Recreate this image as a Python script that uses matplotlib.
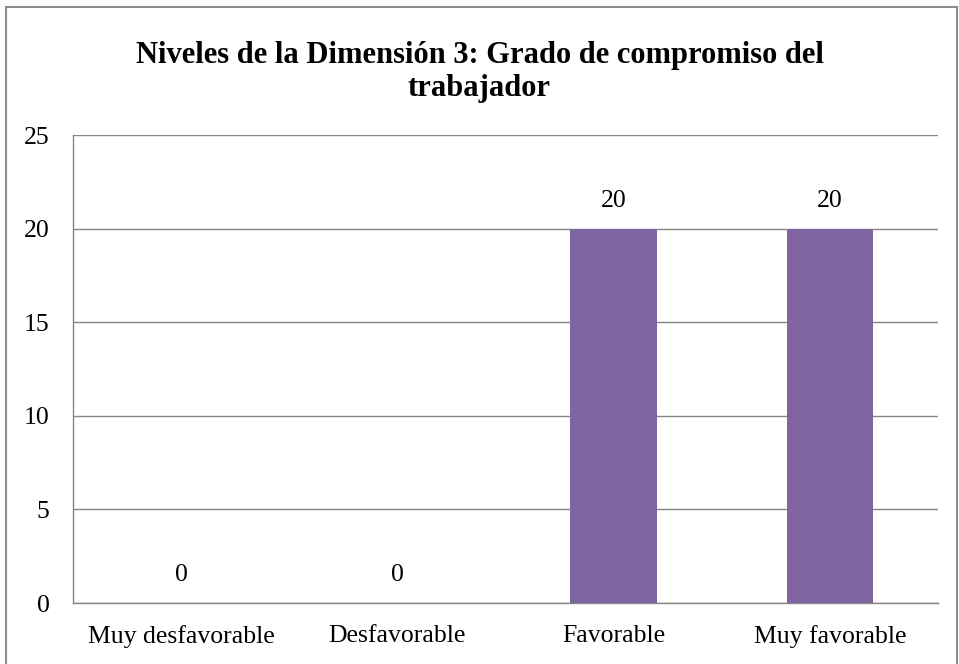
import matplotlib
matplotlib.use('Agg')
import matplotlib.pyplot as plt
from matplotlib.patches import Rectangle

categories = ['Muy desfavorable', 'Desfavorable', 'Favorable', 'Muy favorable']
values = [0, 0, 20, 20]
yticks = [0, 5, 10, 15, 20, 25]

plt.rcParams['font.family'] = ['Liberation Serif', 'DejaVu Serif']

fig = plt.figure(figsize=(9.59, 6.64), dpi=100)
W, H = 959, 664
ax = fig.add_axes([73 / W, 1 - 603 / H, (938 - 73) / W, (603 - 135) / H])

# outer chart frame
fig.patches.append(Rectangle((6 / W, -0.01), (957 - 6) / W, 1 - 7 / H + 0.01,
                             transform=fig.transFigure, fill=False,
                             edgecolor='#8c8c8c', linewidth=1.5))

x = range(len(categories))
ax.bar(x, values, width=0.4, color='#8064A2', zorder=3)
for xi, v in zip(x, values):
    ax.text(xi, v + 0.9, str(v), ha='center', va='bottom', fontsize=18.5)

ax.set_xlim(-0.5, 3.5)
ax.set_ylim(0, 25)
ax.set_yticks(yticks)
ax.set_xticks(list(x))
ax.set_xticklabels(categories, fontsize=18.5)
ax.tick_params(axis='y', length=0, pad=17, labelsize=18.5)
ax.tick_params(axis='x', length=0, pad=16)
ax.grid(axis='y', color='#868686', linewidth=1, zorder=0)
for s in ['top', 'right']:
    ax.spines[s].set_visible(False)
for s in ['left', 'bottom']:
    ax.spines[s].set_color('#868686')
    ax.spines[s].set_linewidth(1)

fig.text(0.5, 1 - 72 / H, 'Niveles de la Dimensión 3: Grado de compromiso del\ntrabajador',
         ha='center', va='center', fontsize=22, fontweight='bold', linespacing=1.15)

fig.savefig('out.png', dpi=100)
